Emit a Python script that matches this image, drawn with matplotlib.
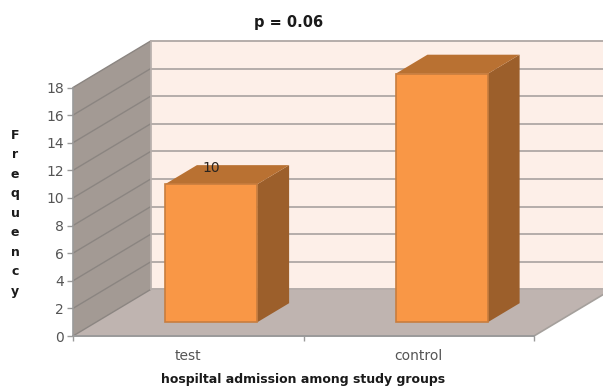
import matplotlib
matplotlib.use("Agg")
import matplotlib.pyplot as plt
from matplotlib.patches import Polygon

groups = ["test", "control"]
frequency = [10, 18]
y_ticks = list(range(0, 19, 2))

W, H = 603, 388

# depth of the 3d box, in data units per unit of depth
DEPTH_X = 0.337
DEPTH_Y = 3.37
BAR_W = 0.40
BAR_NEAR = 0.295
BAR_FAR = 0.705


def proj(x, y, d=0.0):
    return (x + d * DEPTH_X, y + d * DEPTH_Y)


def face(ax, pts, color, edge=None, lw=0.0, z=1):
    ax.add_patch(Polygon(pts, closed=True, facecolor=color, edgecolor=edge or color,
                         linewidth=lw, clip_on=False, zorder=z))


fig = plt.figure(figsize=(W / 100, H / 100), dpi=100, facecolor="white")
ax = fig.add_axes([73 / W, (H - 336) / H, 461 / W, 248.5 / H])
ax.set_xlim(0, 2)
ax.set_ylim(0, 18)
ax.patch.set_visible(False)

wall_grey = "#a39a94"
floor_grey = "#bfb4b0"
back_col = "#fdefe8"
grid_col = "#b5adaa"

# back wall, left wall and floor
face(ax, [proj(0, 0, 1), proj(2, 0, 1), proj(2, 18, 1), proj(0, 18, 1)], back_col)
face(ax, [proj(0, 0), proj(0, 0, 1), proj(0, 18, 1), proj(0, 18)], wall_grey)
face(ax, [proj(0, 0), proj(2, 0), proj(2, 0, 1), proj(0, 0, 1)], floor_grey)

# gridlines run along the left wall and across the back wall
for v in y_ticks:
    a, b, c = proj(0, v), proj(0, v, 1), proj(2, v, 1)
    ax.plot([a[0], b[0]], [a[1], b[1]], color="#8b8581", lw=1.0, clip_on=False, zorder=2)
    ax.plot([b[0], c[0]], [b[1], c[1]], color=grid_col, lw=1.4, clip_on=False, zorder=2)

ax.plot(*zip(proj(0, 0, 1), proj(0, 18, 1)), color=grid_col, lw=1.2, clip_on=False, zorder=2)
ax.plot(*zip(proj(2, 0), proj(2, 0, 1)), color="#a5a09c", lw=1.2, clip_on=False, zorder=2)

# bars
for i, val in enumerate(frequency):
    l = i + 0.5 - BAR_W / 2
    r = i + 0.5 + BAR_W / 2
    face(ax, [proj(r, 0, BAR_NEAR), proj(r, 0, BAR_FAR), proj(r, val, BAR_FAR), proj(r, val, BAR_NEAR)],
         "#9c5f2b", z=3)
    face(ax, [proj(l, val, BAR_NEAR), proj(r, val, BAR_NEAR), proj(r, val, BAR_FAR), proj(l, val, BAR_FAR)],
         "#b97132", z=3)
    face(ax, [proj(l, 0, BAR_NEAR), proj(r, 0, BAR_NEAR), proj(r, val, BAR_NEAR), proj(l, val, BAR_NEAR)],
         "#f99746", edge="#c87d3e", lw=1.2, z=4)
    cx, cy = proj(i + 0.5, val, BAR_NEAR)
    ax.annotate(str(val), (cx, cy), xytext=(0, 11.5), textcoords="offset points",
                ha="center", va="center", fontsize=10, color="#2b2520", zorder=5)

# axes: ticks sit on the front edge of the box
for s in ["top", "right"]:
    ax.spines[s].set_visible(False)
ax.spines["left"].set_color("#9a9a9a")
ax.spines["bottom"].set_color("#9a9a9a")
ax.spines["left"].set_linewidth(1.2)
ax.spines["bottom"].set_linewidth(1.4)
ax.spines["left"].set_zorder(6)
ax.spines["bottom"].set_zorder(6)

ax.set_yticks(y_ticks)
ax.tick_params(axis="y", length=4.5, width=1.0, color="#9a9a9a", labelcolor="#555555",
               labelsize=10, pad=2)
ax.set_xticks([0, 1, 2])
ax.set_xticklabels([])
ax.tick_params(axis="x", which="major", length=3.5, width=1.0, color="#9a9a9a")
ax.set_xticks([0.5, 1.5], minor=True)
ax.set_xticklabels(groups, minor=True)
ax.tick_params(axis="x", which="minor", length=0, labelsize=10, labelcolor="#555555", pad=9)

# titles
fig.text(289 / W, 1 - 23 / H, "p = 0.06", ha="center", va="center",
         fontsize=10.5, fontweight="bold", color="#1a1a1a")
fig.text(303 / W, 1 - 380 / H, "hospiltal admission among study groups", ha="center", va="center",
         fontsize=9, fontweight="bold", color="#1a1a1a")
fig.text(15 / W, 1 - 213 / H, "\n".join("Frequency"), ha="center", va="center",
         fontsize=9, fontweight="bold", color="#1a1a1a", linespacing=1.65)

fig.savefig("out.png", dpi=100)
